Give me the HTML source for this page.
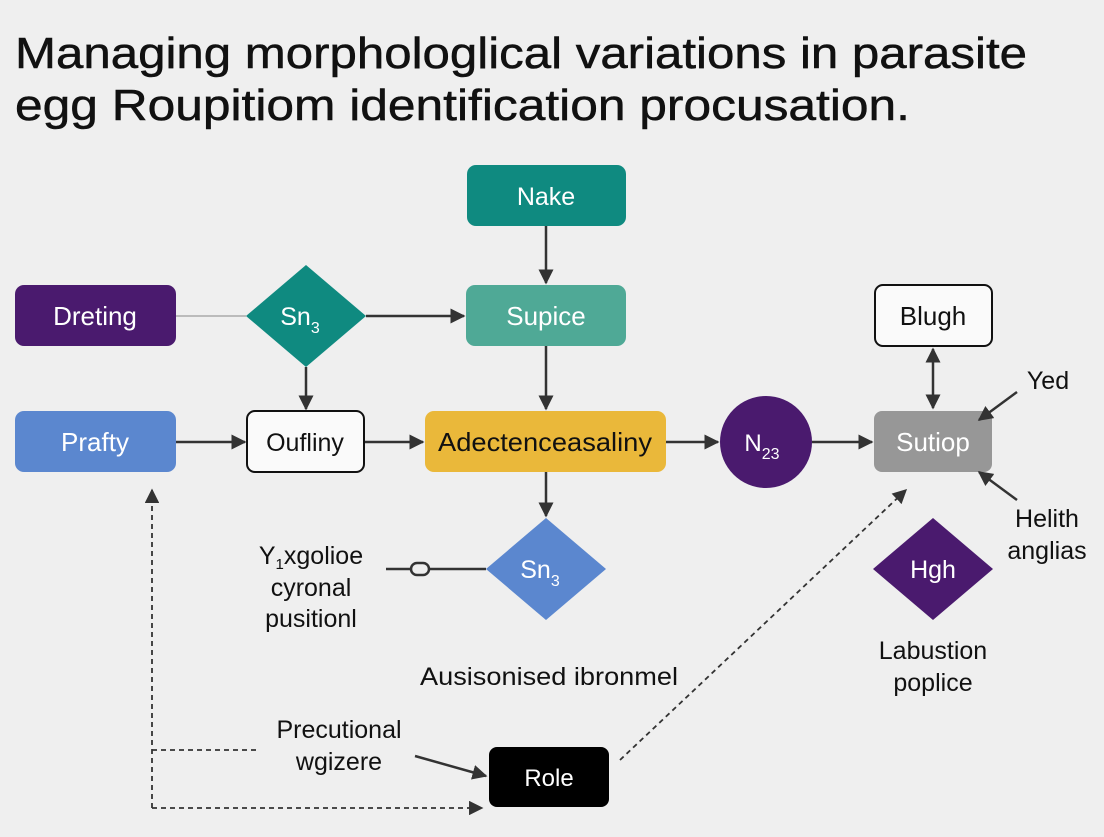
<!DOCTYPE html>
<html><head><meta charset="utf-8"><style>
body{margin:0;background:#efefef;}
svg text{font-family:"Liberation Sans",sans-serif;}
</style></head><body>
<svg width="1104" height="832" viewBox="0 0 1104 832" xmlns="http://www.w3.org/2000/svg">
<defs>
<marker id="a" viewBox="0 0 10 10" refX="9" refY="5" markerWidth="6" markerHeight="6" orient="auto-start-reverse"><path d="M0,0L10,5L0,10z" fill="#333"/></marker>
<marker id="b" viewBox="0 0 10 10" refX="9" refY="5" markerWidth="8" markerHeight="8" orient="auto-start-reverse"><path d="M0,0L10,5L0,10z" fill="#333"/></marker>
</defs>
<rect width="1104" height="832" fill="#efefef"/>
<g font-size="44" fill="#111" stroke="#111" stroke-width="0.5">
<text x="15" y="68" textLength="1012" lengthAdjust="spacingAndGlyphs">Managing morphologlical variations in parasite</text>
<text x="15" y="120" textLength="895" lengthAdjust="spacingAndGlyphs">egg Roupitiom identification procusation.</text>
</g>
<g stroke="#333" stroke-width="2.5" fill="none">
<line x1="546" y1="226" x2="546" y2="283" marker-end="url(#a)"/>
<line x1="176" y1="316" x2="246" y2="316" stroke="#bbb" stroke-width="2"/>
<line x1="366" y1="316" x2="464" y2="316" marker-end="url(#a)"/>
<line x1="306" y1="367" x2="306" y2="409" marker-end="url(#a)"/>
<line x1="546" y1="346" x2="546" y2="409" marker-end="url(#a)"/>
<line x1="176" y1="442" x2="245" y2="442" marker-end="url(#a)"/>
<line x1="364" y1="442" x2="423" y2="442" marker-end="url(#a)"/>
<line x1="666" y1="442" x2="718" y2="442" marker-end="url(#a)"/>
<line x1="812" y1="442" x2="872" y2="442" marker-end="url(#a)"/>
<line x1="546" y1="472" x2="546" y2="516" marker-end="url(#a)"/>
<line x1="933" y1="349" x2="933" y2="408" marker-start="url(#a)" marker-end="url(#a)"/>
<line x1="386" y1="569" x2="486" y2="569"/>
<line x1="415" y1="756" x2="486" y2="776" marker-end="url(#a)"/>
</g>
<rect x="411" y="563" width="18" height="12" rx="6" fill="#efefef" stroke="#333" stroke-width="2.5"/>
<g stroke="#333" stroke-width="1.8" fill="none" stroke-dasharray="5,4">
<line x1="152" y1="808" x2="152" y2="490" marker-end="url(#b)"/>
<line x1="152" y1="750" x2="258" y2="750"/>
<line x1="152" y1="808" x2="482" y2="808" marker-end="url(#b)"/>
<line x1="620" y1="760" x2="906" y2="490" marker-end="url(#b)"/>
</g>
<rect x="467" y="165" width="159" height="61" rx="9" fill="#0f8a80"/>
<rect x="466" y="285" width="160" height="61" rx="9" fill="#4fa996"/>
<rect x="15" y="285" width="161" height="61" rx="9" fill="#4a1a6e"/>
<polygon points="306,265 366,316 306,367 246,316" fill="#0f8a80"/>
<rect x="15" y="411" width="161" height="61" rx="9" fill="#5b87cf"/>
<rect x="247" y="411" width="117" height="61" rx="8" fill="#fafafa" stroke="#111" stroke-width="2"/>
<rect x="425" y="411" width="241" height="61" rx="9" fill="#eab83a"/>
<circle cx="766" cy="442" r="46" fill="#4a1a6e"/>
<rect x="874" y="411" width="118" height="61" rx="8" fill="#979797"/>
<rect x="875" y="285" width="117" height="61" rx="8" fill="#fafafa" stroke="#111" stroke-width="2"/>
<polygon points="546,518 606,569 546,620 486,569" fill="#5b87cf"/>
<polygon points="933,518 993,569 933,620 873,569" fill="#4a1a6e"/>
<rect x="489" y="747" width="120" height="60" rx="8" fill="#000"/>
<g stroke="#333" stroke-width="2.5" fill="none">
<line x1="1017" y1="392" x2="979" y2="420" marker-end="url(#a)"/>
<line x1="1017" y1="500" x2="979" y2="472" marker-end="url(#a)"/>
</g>
<g font-size="26" text-anchor="middle">
<text x="546" y="205" fill="#fff" font-size="25">Nake</text>
<text x="546" y="325" fill="#fff">Supice</text>
<text x="95" y="325" fill="#fff">Dreting</text>
<text x="300" y="325" fill="#fff" font-size="25">Sn<tspan font-size="16" dy="8">3</tspan></text>
<text x="95" y="451" fill="#fff">Prafty</text>
<text x="305" y="451" fill="#111" font-size="25">Oufliny</text>
<text x="545" y="451" fill="#111" textLength="214" lengthAdjust="spacingAndGlyphs">Adectenceasaliny</text>
<text x="762" y="451" fill="#fff" font-size="24">N<tspan font-size="16" dy="8">23</tspan></text>
<text x="933" y="451" fill="#fff">Sutiop</text>
<text x="933" y="325" fill="#111">Blugh</text>
<text x="540" y="578" fill="#fff" font-size="25">Sn<tspan font-size="16" dy="8">3</tspan></text>
<text x="933" y="578" fill="#fff" font-size="25">Hgh</text>
<text x="549" y="786" fill="#fff" font-size="24">Role</text>
</g>
<g font-size="25" fill="#111" text-anchor="middle">
<text x="1048" y="389">Yed</text>
<text x="1047" y="527">Helith</text>
<text x="1047" y="559">anglias</text>
<text x="933" y="659">Labustion</text>
<text x="933" y="691">poplice</text>
<text x="311" y="564">Y<tspan font-size="15" dy="5">1</tspan><tspan dy="-5">xgolioe</tspan></text>
<text x="311" y="596">cyronal</text>
<text x="311" y="627">pusitionl</text>
<text x="549" y="685" textLength="258" lengthAdjust="spacingAndGlyphs">Ausisonised ibronmel</text>
<text x="339" y="738">Precutional</text>
<text x="339" y="770">wgizere</text>
</g>
</svg>
</body></html>
